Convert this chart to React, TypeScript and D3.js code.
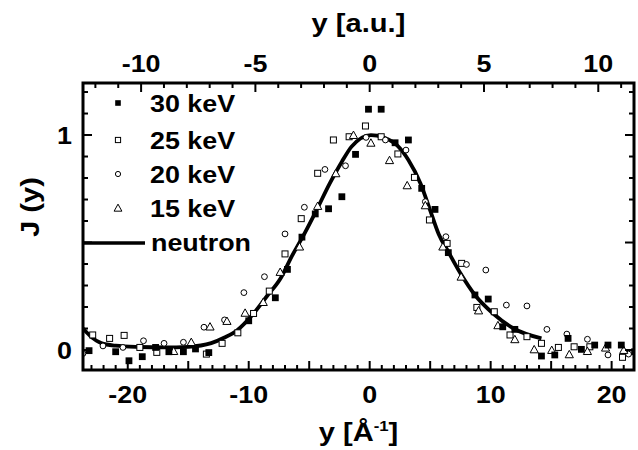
import React from "react";
import * as d3 from "d3";

// ---- data ----
const kev30: [number, number][] = [
  [-23.2, -0.003], [-21.0, -0.008], [-19.9, -0.05], [-18.8, -0.031], [-17.7, 0.012],
  [-16.6, -0.008], [-15.4, -0.008], [-14.4, 0.005], [-13.3, -0.012], [-10.0, 0.136],
  [-7.8, 0.243], [-6.8, 0.375], [-5.6, 0.525], [-4.5, 0.633], [-3.4, 0.657],
  [-2.3, 0.713], [-1.17, 0.91], [-0.1, 1.12], [0.95, 1.12], [2.1, 0.964],
  [3.2, 0.977], [4.3, 0.752], [5.4, 0.654], [6.5, 0.453], [8.7, 0.256],
  [9.8, 0.237], [11.0, 0.108], [12.0, 0.096], [14.2, -0.028], [15.3, -0.023],
  [16.4, 0.054], [17.5, 0.003], [18.6, 0.023], [19.7, 0.023], [20.8, 0.023], [21.9, -0.008],
];
const kev25: [number, number][] = [
  [-22.9, 0.07], [-21.5, 0.054], [-20.3, 0.068], [-19.0, 0.012], [-17.6, -0.011],
  [-13.5, -0.019], [-12.2, 0.031], [-10.9, 0.08], [-9.6, 0.17], [-8.3, 0.274],
  [-7.0, 0.447], [-5.66, 0.611], [-4.3, 0.822], [-3.0, 0.977], [-1.7, 0.992],
  [-0.35, 1.042], [0.95, 0.992], [2.33, 0.912], [3.7, 0.803], [4.94, 0.605],
  [6.4, 0.496], [7.6, 0.403], [8.86, 0.198], [10.3, 0.178], [11.6, 0.07],
  [13.0, 0.062], [14.2, 0.031], [15.6, 0.012], [16.9, 0.015], [18.2, 0.015], [20.9, -0.034],
];
const kev20: [number, number][] = [
  [-23.7, -0.016], [-22.05, 0.019], [-20.4, 0.012], [-18.7, 0.043], [-17.0, 0.031],
  [-15.4, 0.036], [-13.7, 0.106], [-12.0, 0.14], [-10.4, 0.267], [-8.7, 0.341],
  [-7.0, 0.54], [-5.4, 0.664], [-3.7, 0.84], [-2.0, 0.857], [-0.3, 0.989],
  [1.3, 0.977], [3.0, 0.93], [4.6, 0.69], [6.3, 0.527], [8.0, 0.398],
  [9.6, 0.372], [11.3, 0.209], [13.0, 0.205], [14.65, 0.096], [16.3, 0.074],
  [18.0, 0.05], [19.7, -0.023], [21.4, -0.019],
];
const kev15: [number, number][] = [
  [-16.2, -0.008], [-14.75, 0.034], [-13.2, 0.106], [-11.8, 0.132], [-10.3, 0.17],
  [-8.8, 0.22], [-7.4, 0.36], [-5.8, 0.478], [-4.3, 0.667], [-2.8, 0.819],
  [-1.34, 0.997], [0.1, 0.961], [1.64, 0.88], [3.1, 0.763], [4.6, 0.67],
  [6.05, 0.478], [7.56, 0.338], [9.0, 0.181], [10.6, 0.112], [12.0, 0.047],
  [13.6, 0.0], [15.05, -0.003], [16.5, -0.023], [18.0, -0.008], [19.5, 0.008], [21.0, -0.003],
];
const neutron: [number, number][] = [
  [-23.7, 0.1], [-23.0, 0.06], [-22.2, 0.032], [-21.0, 0.02], [-19.0, 0.014],
  [-17.0, 0.012], [-15.0, 0.015], [-13.1, 0.032], [-12.0, 0.058], [-11.0, 0.09],
  [-9.6, 0.17], [-8.5, 0.25], [-7.4, 0.33], [-6.4, 0.44], [-5.6, 0.52],
  [-4.4, 0.65], [-3.3, 0.775], [-2.3, 0.876], [-1.5, 0.946], [0.1, 1.0],
  [1.1, 0.99], [2.25, 0.953], [3.2, 0.884], [4.2, 0.775], [5.0, 0.65],
  [5.7, 0.54], [6.5, 0.457], [7.5, 0.357], [8.7, 0.256], [10.2, 0.17],
  [11.9, 0.1], [14.2, 0.054],
];
const legendLabels = ["30 keV", "25 keV", "20 keV", "15 keV", "neutron"];
const bottomTickLabels = [-20, -10, 0, 10, 20];
const topTickLabels = [-10, -5, 0, 5, 10];
const leftTickLabels = [0, 1];
const AU = 1.8897; // Å^-1 per atomic unit

const W = 638, H = 450;
const L = 83, R = 634, T = 83, B = 370;
const FONT = "'Liberation Sans', Arial, Helvetica, sans-serif";
const SX = 1.12;

function Txt(props: { x: number; y: number; anchor?: string; size: number; children: any; rot?: boolean }) {
  const { x, y, anchor = "middle", size, children, rot } = props;
  const tr = rot ? `translate(${x},${y}) rotate(-90) scale(${SX},1)` : `translate(${x},${y}) scale(${SX},1)`;
  return (
    <text transform={tr} textAnchor={anchor} fontFamily={FONT} fontWeight="bold" fontSize={size} fill="#000">
      {children}
    </text>
  );
}

const tri = (cx: number, cy: number, s = 1) =>
  `M${cx},${cy - 4.6 * s}L${cx + 4.1 * s},${cy + 2.8 * s}L${cx - 4.1 * s},${cy + 2.8 * s}Z`;

export default function App() {
  const x = d3.scaleLinear().domain([-23.7, 21.85]).range([L, R]);
  const y = d3.scaleLinear().domain([-0.093, 1.242]).range([B, T]);
  const line = d3
    .line<[number, number]>()
    .x((d) => x(d[0]))
    .y((d) => y(d[1]))
    .curve(d3.curveMonotoneX);

  const botMinor = d3.range(-23, 22, 1);
  const topMinor = d3.range(-12, 12, 1).filter((v) => x(v * AU) > L + 1 && x(v * AU) < R - 1);
  const leftMinor = d3.range(0, 13, 1).map((v) => v / 10);

  return (
    <svg width={W} height={H} style={{ display: "block", position: "absolute", left: 0, top: 0 }}>
      <defs>
        <clipPath id="plot">
          <rect x={L} y={T} width={R - L} height={B - T} />
        </clipPath>
      </defs>
      <rect x={0} y={0} width={W} height={H} fill="#fff" />

      <g clipPath="url(#plot)">
        <path d={line(neutron) || ""} fill="none" stroke="#000" strokeWidth={3.8} />
        {kev25.map((d, i) => (
          <rect key={"b" + i} x={x(d[0]) - 3} y={y(d[1]) - 3} width={6} height={6} fill="#fff" stroke="#000" strokeWidth={1} />
        ))}
        {kev20.map((d, i) => (
          <circle key={"c" + i} cx={x(d[0])} cy={y(d[1])} r={2.9} fill="#fff" stroke="#000" strokeWidth={1} />
        ))}
        {kev15.map((d, i) => (
          <path key={"t" + i} d={tri(x(d[0]), y(d[1]))} fill="#fff" stroke="#000" strokeWidth={1} />
        ))}
        {kev30.map((d, i) => (
          <rect key={"a" + i} x={x(d[0]) - 3.4} y={y(d[1]) - 3.4} width={6.8} height={6.8} fill="#000" />
        ))}
      </g>

      {/* ticks */}
      <g stroke="#000" strokeWidth={2}>
        {botMinor.map((v) => {
          const len = v % 5 === 0 ? 9 : 5;
          return <line key={"bt" + v} x1={x(v)} x2={x(v)} y1={B} y2={B - len} />;
        })}
        {topMinor.map((v) => {
          const len = v % 5 === 0 ? 9 : 5;
          return <line key={"tt" + v} x1={x(v * AU)} x2={x(v * AU)} y1={T} y2={T + len} />;
        })}
        {leftMinor.map((v, i) => {
          const len = i % 5 === 0 ? 9 : 5;
          return (
            <g key={"lt" + i}>
              <line x1={L} x2={L + len} y1={y(v)} y2={y(v)} />
              <line x1={R} x2={R - len} y1={y(v)} y2={y(v)} />
            </g>
          );
        })}
      </g>
      <rect x={L} y={T} width={R - L} height={B - T} fill="none" stroke="#000" strokeWidth={3} />

      {/* tick labels */}
      {bottomTickLabels.map((v) => (
        <Txt key={"bl" + v} x={x(v)} y={403} size={24}>{String(v)}</Txt>
      ))}
      {topTickLabels.map((v) => (
        <Txt key={"tl" + v} x={x(v * AU)} y={72} size={24}>{String(v)}</Txt>
      ))}
      {leftTickLabels.map((v) => (
        <Txt key={"ll" + v} x={72} y={y(v) + 8.5} size={24} anchor="end">{String(v)}</Txt>
      ))}

      {/* axis titles */}
      <Txt x={(L + R) / 2} y={32} size={26}>y [a.u.]</Txt>
      <text transform={`translate(${(L + R) / 2},441) scale(${SX},1)`} textAnchor="middle" fontFamily={FONT} fontWeight="bold" fontSize={26}>
        y [Å<tspan dy={-10} fontSize={15}>-1</tspan><tspan dy={10}>]</tspan>
      </text>
      <Txt x={39} y={207} size={26} rot>J (y)</Txt>

      {/* legend */}
      <rect x={118 - 2.8} y={103 - 2.8} width={5.6} height={5.6} fill="#000" />
      <rect x={118 - 2.6} y={140 - 2.6} width={5.2} height={5.2} fill="#fff" stroke="#000" strokeWidth={1} />
      <circle cx={118} cy={174} r={2.6} fill="#fff" stroke="#000" strokeWidth={1} />
      <path d={tri(118, 208.5, 0.95)} fill="#fff" stroke="#000" strokeWidth={1} />
      <line x1={L} x2={145} y1={243} y2={243} stroke="#000" strokeWidth={3.5} />
      {legendLabels.map((s, i) => (
        <Txt key={"lg" + i} x={i === 4 ? 151 : 150} y={[112, 148.5, 183, 217, 251][i]} size={24} anchor="start">{s}</Txt>
      ))}
    </svg>
  );
}
